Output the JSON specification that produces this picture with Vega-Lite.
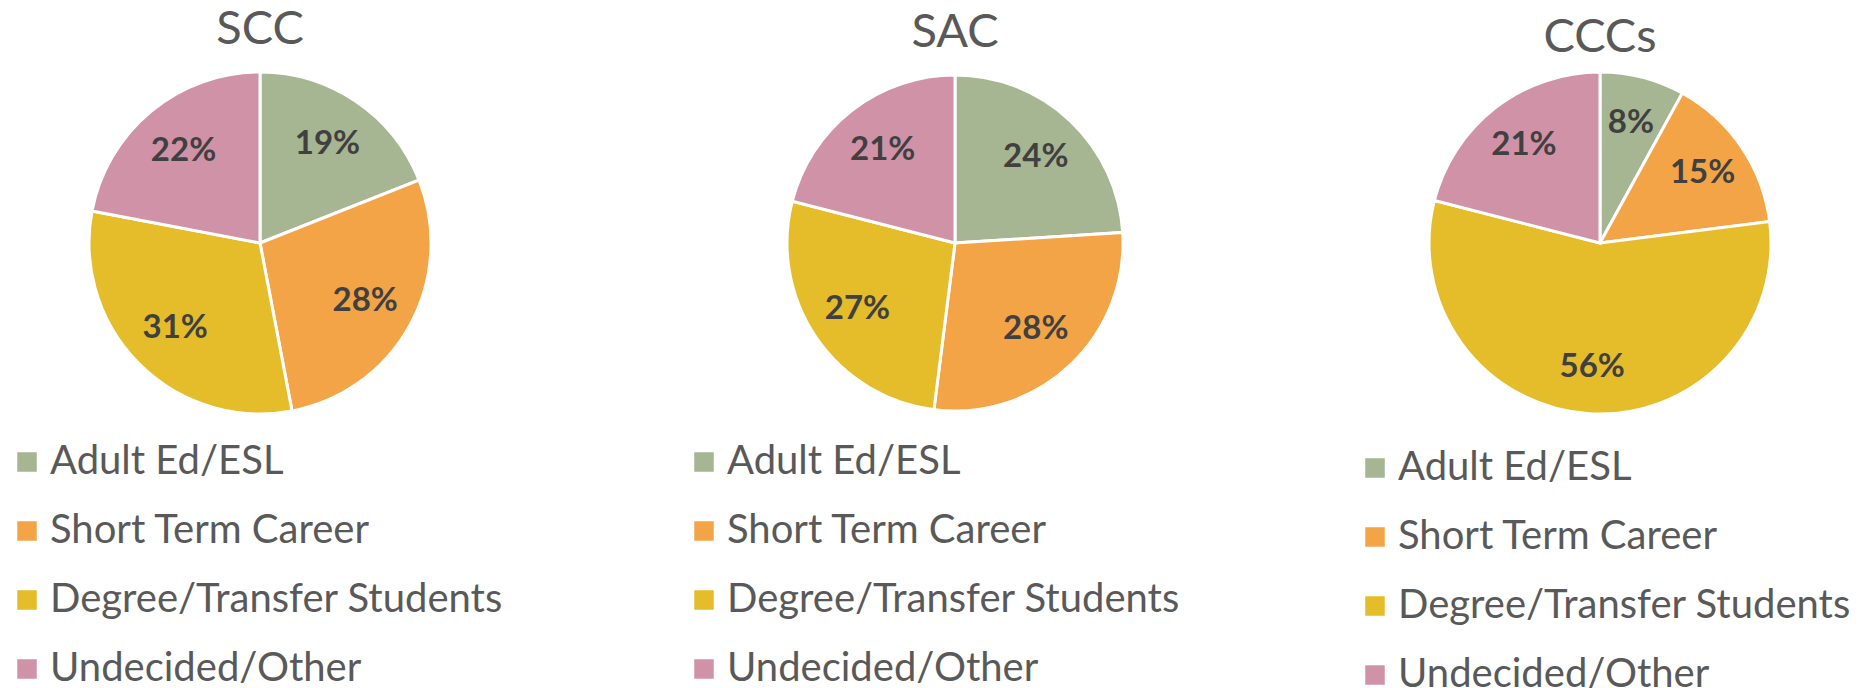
{
  "$schema": "https://vega.github.io/schema/vega-lite/v6.json",
  "padding": {"left": 0, "top": 6, "right": 0, "bottom": 0},
  "background": "white",
  "data": {"values": [
    {"school": "SCC", "category": "Adult Ed/ESL", "ord": 1, "pct": 0.19},
    {"school": "SCC", "category": "Short Term Career", "ord": 2, "pct": 0.28},
    {"school": "SCC", "category": "Degree/Transfer Students", "ord": 3, "pct": 0.31},
    {"school": "SCC", "category": "Undecided/Other", "ord": 4, "pct": 0.22},
    {"school": "SAC", "category": "Adult Ed/ESL", "ord": 1, "pct": 0.24},
    {"school": "SAC", "category": "Short Term Career", "ord": 2, "pct": 0.28},
    {"school": "SAC", "category": "Degree/Transfer Students", "ord": 3, "pct": 0.27},
    {"school": "SAC", "category": "Undecided/Other", "ord": 4, "pct": 0.21},
    {"school": "CCCs", "category": "Adult Ed/ESL", "ord": 1, "pct": 0.08},
    {"school": "CCCs", "category": "Short Term Career", "ord": 2, "pct": 0.15},
    {"school": "CCCs", "category": "Degree/Transfer Students", "ord": 3, "pct": 0.56},
    {"school": "CCCs", "category": "Undecided/Other", "ord": 4, "pct": 0.21}
  ]},
  "config": {
    "view": {"stroke": null},
    "title": {"fontSize": 47, "fontWeight": "normal", "color": "#595959", "font": "Lato", "offset": 12},
    "legend": {
      "labelFontSize": 40, "labelColor": "#595959", "labelFont": "Lato",
      "symbolType": "square", "symbolSize": 380, "symbolStrokeWidth": 0,
      "rowPadding": 29, "labelOffset": 3, "padding": 0, "labelLimit": 700,
      "title": null
    }
  },
  "spacing": 164,
  "resolve": {"legend": {"color": "independent"}},
  "hconcat": [
    {
      "title": {"text": "SCC"},
      "width": 520, "height": 342,
      "transform": [{"filter": "datum.school === 'SCC'"}],
      "encoding": {
        "theta": {"field": "pct", "type": "quantitative", "stack": true},
        "order": {"field": "ord", "type": "quantitative"},
        "color": {"field": "category", "type": "nominal",
          "scale": {"domain": ["Adult Ed/ESL", "Short Term Career", "Degree/Transfer Students", "Undecided/Other"],
                    "range": ["#A6B592", "#F3A447", "#E5BC29", "#D092A7"]},
          "legend": {"orient": "none", "legendX": 7, "legendY": 370, "direction": "vertical"}}
      },
      "layer": [
        {"mark": {"type": "arc", "outerRadius": 171, "stroke": "white", "strokeWidth": 3}},
        {"mark": {"type": "text", "radius": 120, "fontSize": 33, "fontWeight": "bold", "font": "Lato"},
         "encoding": {"text": {"field": "pct", "type": "quantitative", "format": ".0%"},
                      "color": {"value": "#404040"}, "detail": {"field": "category"}}}
      ]
    },
    {
      "spacing": 129,
      "resolve": {"legend": {"color": "independent"}},
      "hconcat": [
        {
          "title": {"text": "SAC"},
          "width": 542, "height": 342,
          "transform": [{"filter": "datum.school === 'SAC'"}],
          "encoding": {
            "theta": {"field": "pct", "type": "quantitative", "stack": true},
            "order": {"field": "ord", "type": "quantitative"},
            "color": {"field": "category", "type": "nominal",
              "scale": {"domain": ["Adult Ed/ESL", "Short Term Career", "Degree/Transfer Students", "Undecided/Other"],
                        "range": ["#A6B592", "#F3A447", "#E5BC29", "#D092A7"]},
              "legend": {"orient": "none", "legendX": 0, "legendY": 370, "direction": "vertical"}}
          },
          "layer": [
            {"mark": {"type": "arc", "outerRadius": 168, "stroke": "white", "strokeWidth": 3}},
            {"mark": {"type": "text", "radius": 118, "fontSize": 33, "fontWeight": "bold", "font": "Lato"},
             "encoding": {"text": {"field": "pct", "type": "quantitative", "format": ".0%"},
                          "color": {"value": "#404040"}, "detail": {"field": "category"}}}
          ]
        },
        {
          "title": {"text": "CCCs", "dy": 8},
          "width": 490, "height": 342,
          "transform": [{"filter": "datum.school === 'CCCs'"}],
          "encoding": {
            "theta": {"field": "pct", "type": "quantitative", "stack": true},
            "order": {"field": "ord", "type": "quantitative"},
            "color": {"field": "category", "type": "nominal",
              "scale": {"domain": ["Adult Ed/ESL", "Short Term Career", "Degree/Transfer Students", "Undecided/Other"],
                        "range": ["#A6B592", "#F3A447", "#E5BC29", "#D092A7"]},
              "legend": {"orient": "none", "legendX": 0, "legendY": 376, "direction": "vertical"}}
          },
          "layer": [
            {"mark": {"type": "arc", "outerRadius": 171, "stroke": "white", "strokeWidth": 3}},
            {"mark": {"type": "text", "radius": 124, "fontSize": 33, "fontWeight": "bold", "font": "Lato"},
             "encoding": {"text": {"field": "pct", "type": "quantitative", "format": ".0%"},
                          "color": {"value": "#404040"}, "detail": {"field": "category"}}}
          ]
        }
      ]
    }
  ]
}
